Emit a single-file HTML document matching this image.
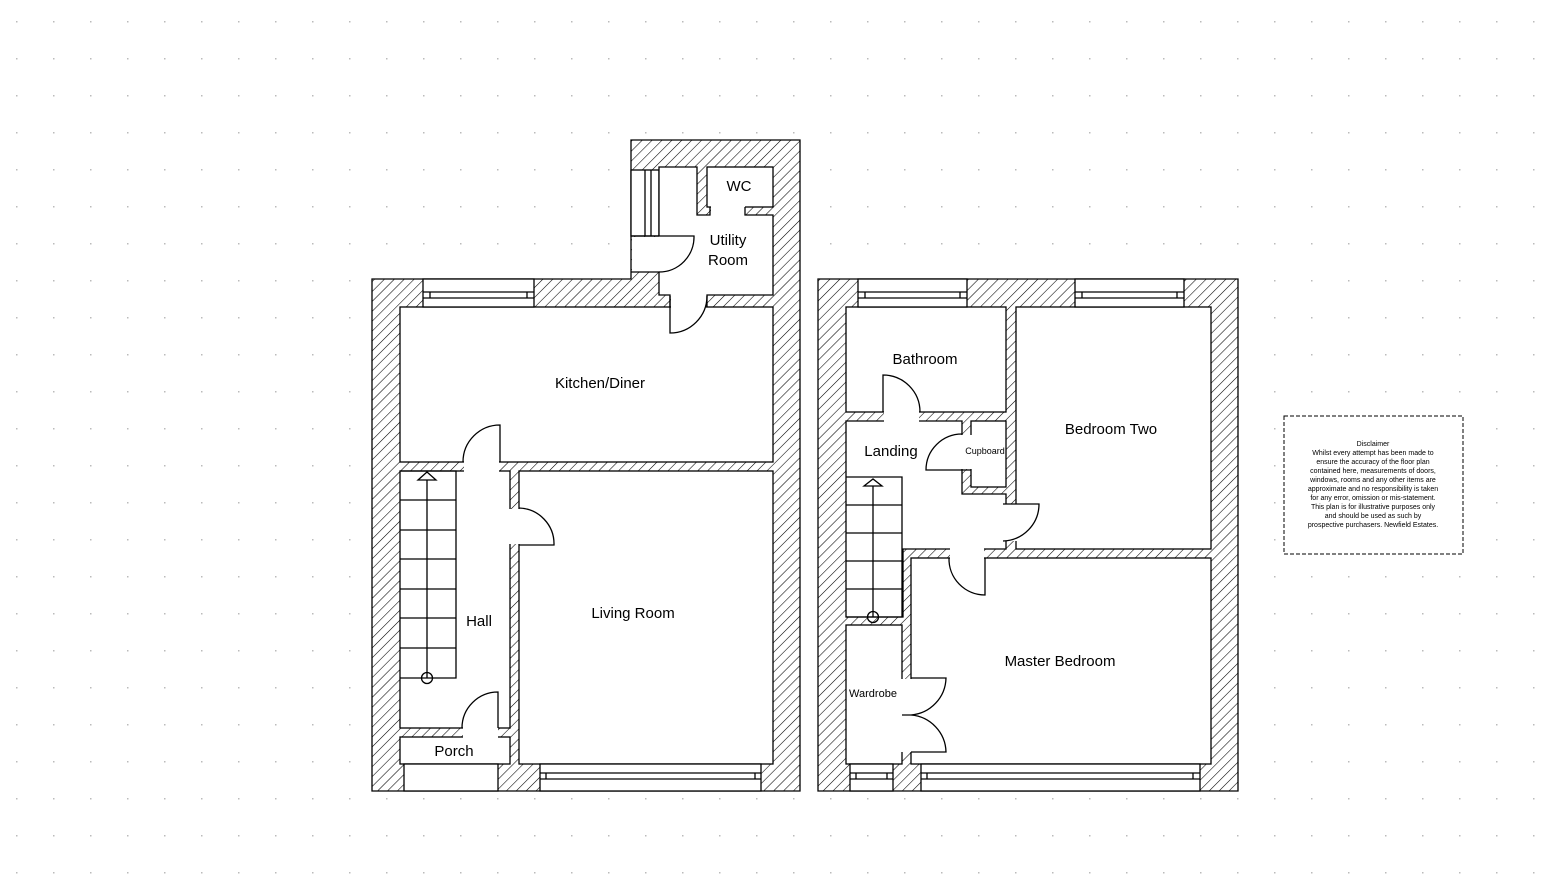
<!DOCTYPE html>
<html><head><meta charset="utf-8"><style>
html,body{margin:0;padding:0;background:#fff;}
svg{display:block;}
text{font-family:"Liberation Sans",sans-serif;fill:#000;}
</style></head><body>
<svg width="1566" height="887" viewBox="0 0 1566 887" xmlns="http://www.w3.org/2000/svg">
<defs>
<pattern id="h" width="7" height="7" patternUnits="userSpaceOnUse" patternTransform="rotate(45)">
<rect width="7" height="7" fill="#fff"/><line x1="0" y1="0" x2="0" y2="7" stroke="#000" stroke-width="1.1"/>
</pattern>
<pattern id="d" width="37" height="37" patternUnits="userSpaceOnUse" x="16" y="21">
<rect x="0" y="0" width="1.5" height="1.5" fill="#bbb"/>
</pattern>
</defs>
<rect width="1566" height="887" fill="url(#d)"/>
<g stroke="#000" stroke-width="1.3">
<!-- ground floor walls -->
<path d="M372 279 H631 V140 H800 V791 H372 Z" fill="url(#h)"/>
<g fill="#fff">
<rect x="400" y="307" width="373" height="155"/>
<rect x="519" y="471" width="254" height="293"/>
<rect x="400" y="471" width="110" height="257"/>
<rect x="400" y="737" width="110" height="27"/>
<rect x="404" y="764" width="94" height="27"/>
<rect x="540" y="764" width="221" height="27"/>
<rect x="423" y="279" width="111" height="28"/>
<rect x="707" y="167" width="66" height="40"/>
<rect x="631" y="170" width="28" height="66"/>
</g>
<g fill="#fff" stroke="none">
<path d="M659 167 H697 V215 H773 V295 H659 Z"/>
<rect x="632" y="237" width="28" height="35"/>
<rect x="671" y="286" width="35" height="22"/>
<rect x="711" y="206" width="34" height="10"/>
<rect x="401" y="463" width="62" height="7" fill="url(#h)"/>
<rect x="464" y="461" width="35" height="11"/>
<rect x="509" y="509" width="11" height="35"/>
<rect x="463" y="727" width="35" height="11"/>
</g>
<g fill="none">
<path d="M659 236 V167 H697 V215 H710 V207"/>
<path d="M745 207 V215 H773 V295 H707 V307"/>
<path d="M670 307 V295 H659 V272 H631"/>
<path d="M540 773 H761 M540 779 H761 M546 773 V779 M755 773 V779"/>
<path d="M423 292 H534 M423 298 H534 M430 292 V298 M527 292 V298"/>
<path d="M645 170 V236 M651 170 V236"/>
<path d="M631 236 H694 A35 35 0 0 1 659 272"/>
<path d="M670 296 V333 A37 37 0 0 0 707 296"/>
<path d="M500 462 V425 A37 37 0 0 0 463 462"/>
<path d="M519 545 H554 A36 36 0 0 0 519 508"/>
<path d="M498 728 V692 A36 36 0 0 0 462 728"/>
<path d="M400 471 H456 V678 H400"/>
<path d="M400 500 H456 M400 530 H456 M400 559 H456 M400 589 H456 M400 618 H456 M400 648 H456"/>
<path d="M427 678 V478"/>
<path d="M418 480 L427 472 L436 480 Z" fill="#fff"/>
<circle cx="427" cy="678" r="5.5"/>
</g>
<!-- first floor -->
<path d="M818 279 H1238 V791 H818 Z" fill="url(#h)"/>
<g fill="#fff">
<rect x="846" y="307" width="160" height="105"/>
<rect x="1016" y="307" width="195" height="242"/>
<rect x="911" y="558" width="300" height="206"/>
<path d="M846 421 H962 V494 H1006 V549 H903 V617 H846 Z"/>
<rect x="971" y="421" width="35" height="66"/>
<rect x="846" y="625" width="56" height="139"/>
<rect x="858" y="279" width="109" height="28"/>
<rect x="1075" y="279" width="109" height="28"/>
<rect x="850" y="764" width="43" height="27"/>
<rect x="921" y="764" width="279" height="27"/>
</g>
<g fill="#fff" stroke="none">
<rect x="884" y="411" width="35" height="11"/>
<rect x="961" y="435" width="11" height="34"/>
<rect x="950" y="548" width="34" height="11"/>
<rect x="997" y="504" width="20" height="37"/>
<rect x="901" y="679" width="11" height="73"/>
</g>
<g fill="none">
<path d="M858 292 H967 M858 298 H967 M865 292 V298 M960 292 V298"/>
<path d="M1075 292 H1184 M1075 298 H1184 M1082 292 V298 M1177 292 V298"/>
<path d="M850 773 H893 M850 779 H893 M921 773 H1200 M921 779 H1200 M927 773 V779 M1193 773 V779 M856 773 V779 M887 773 V779"/>
<path d="M883 412 V375 A37 37 0 0 1 920 412"/>
<path d="M971 470 H926 A36 36 0 0 1 962 434"/>
<path d="M985 558 V595 A36 36 0 0 1 949 558"/>
<path d="M1003 504 H1039 A37 37 0 0 1 1003 541"/>
<path d="M911 678 H946 A38 38 0 0 1 911 715 A38 38 0 0 1 946 752 H911 M902 715 H911"/>
<path d="M846 477 H902 V617 H846"/>
<path d="M846 505 H902 M846 533 H902 M846 561 H902 M846 589 H902"/>
<path d="M873 617 V485"/>
<path d="M864 486 L873 479 L882 486 Z" fill="#fff"/>
<circle cx="873" cy="617" r="5.5"/>
</g>
</g>
<text x="739" y="191" font-size="15" text-anchor="middle">WC</text>
<text x="728" y="245" font-size="15" text-anchor="middle">Utility</text>
<text x="728" y="265" font-size="15" text-anchor="middle">Room</text>
<text x="600" y="388" font-size="15" text-anchor="middle">Kitchen/Diner</text>
<text x="633" y="618" font-size="15" text-anchor="middle">Living Room</text>
<text x="479" y="626" font-size="15" text-anchor="middle">Hall</text>
<text x="454" y="756" font-size="15" text-anchor="middle">Porch</text>
<text x="925" y="364" font-size="15" text-anchor="middle">Bathroom</text>
<text x="891" y="456" font-size="15" text-anchor="middle">Landing</text>
<text x="985" y="454" font-size="9" text-anchor="middle">Cupboard</text>
<text x="1111" y="434" font-size="15" text-anchor="middle">Bedroom Two</text>
<text x="1060" y="666" font-size="15" text-anchor="middle">Master Bedroom</text>
<text x="873" y="697" font-size="11" text-anchor="middle">Wardrobe</text>
<rect x="1284" y="416" width="179" height="138" fill="#fff" stroke="#000" stroke-dasharray="4,2"/>
<g font-size="7" text-anchor="middle">
<text x="1373" y="446">Disclaimer</text>
<text x="1373" y="455">Whilst every attempt has been made to</text>
<text x="1373" y="464">ensure the accuracy of the floor plan</text>
<text x="1373" y="473">contained here, measurements of doors,</text>
<text x="1373" y="482">windows, rooms and any other items are</text>
<text x="1373" y="491">approximate and no responsibility is taken</text>
<text x="1373" y="500">for any error, omission or mis-statement.</text>
<text x="1373" y="509">This plan is for illustrative purposes only</text>
<text x="1373" y="518">and should be used as such by</text>
<text x="1373" y="527">prospective purchasers. Newfield Estates.</text>
</g>
</svg>
</body></html>
